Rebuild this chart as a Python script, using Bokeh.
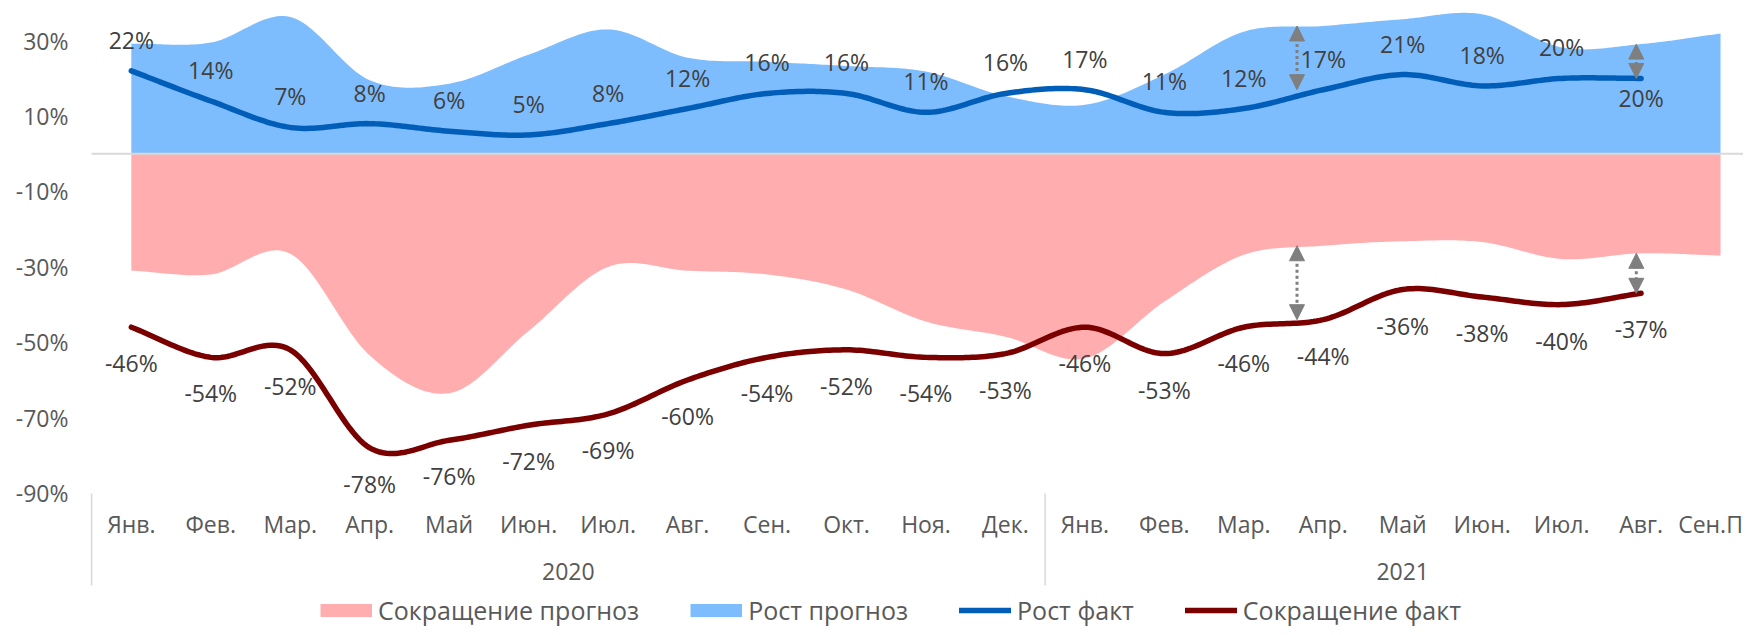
import numpy as np
from bokeh.plotting import figure
from bokeh.models import (Range1d, FixedTicker, PrintfTickFormatter, Legend, LegendItem,
                          Arrow, NormalHead, ColumnDataSource)
from bokeh.embed import file_html
from bokeh.resources import INLINE
from bokeh.core.properties import value

# ---------------- data ----------------
months = ["Янв.", "Фев.", "Мар.", "Апр.", "Май", "Июн.", "Июл.", "Авг.", "Сен.", "Окт.", "Ноя.", "Дек.",
          "Янв.", "Фев.", "Мар.", "Апр.", "Май", "Июн.", "Июл.", "Авг.", "Сен.П"]
years = ["2020", "2021"]
months_per_year = [12, 9]

growth_forecast = [29.2, 29.5, 36.3, 19.5, 18.6, 26.3, 33.0, 25.5, 24.4, 23.3, 21.8, 15.3,
                   13.0, 21.0, 32.4, 33.9, 35.7, 37.0, 28.2, 29.1, 31.9]
decline_forecast = [-31.0, -32.0, -26.5, -53.5, -63.5, -47.0, -30.0, -31.0, -32.0, -36.0, -44.5, -48.5,
                    -54.3, -39.2, -26.8, -24.4, -23.2, -23.4, -27.9, -26.4, -27.0]
growth_actual = [22, 14, 7, 8, 6, 5, 8, 12, 16, 16, 11, 16, 17, 11, 12, 17, 21, 18, 20, 20]
decline_actual = [-46, -54, -52, -78, -76, -72, -69, -60, -54, -52, -54, -53,
                  -46, -53, -46, -44, -36, -38, -40, -37]
y_ticks = [-90, -70, -50, -30, -10, 10, 30]
arrow_months = [15, 19]

series_names = ["Сокращение прогноз", "Рост прогноз", "Рост факт", "Сокращение факт"]

# ---------------- style / layout ----------------
PINK = "#FFADAF"
SKY = "#7EBDFD"
BLUE = "#005EB8"
DARK_RED = "#7A0000"
GRAY_TXT = "#595959"
DARK_TXT = "#404040"
FONT = value("Open Sans")

W, H = 1743, 627
LEFT = 86
PX = 3.77                      # pixels per percentage point
X_START, X_END = -0.564, 20.289
Y_START, Y_END = -125.65, 40.66


def below_zero(px):
    """value located px pixels below the zero line"""
    return -px / PX


def smooth(vals, n=24):
    y = np.asarray(vals, dtype=float)
    k = len(y)
    m = np.zeros(k)
    m[1:-1] = (y[2:] - y[:-2]) / 2.0
    m[0] = y[1] - y[0]
    m[-1] = y[-1] - y[-2]
    t = np.linspace(0.0, 1.0, n, endpoint=False)
    h00 = 2 * t**3 - 3 * t**2 + 1
    h10 = t**3 - 2 * t**2 + t
    h01 = -2 * t**3 + 3 * t**2
    h11 = t**3 - t**2
    xs, ys = [], []
    for i in range(k - 1):
        xs.append(i + t)
        ys.append(h00 * y[i] + h10 * m[i] + h01 * y[i + 1] + h11 * m[i + 1])
    xs.append(np.array([k - 1.0]))
    ys.append(np.array([y[-1]]))
    return np.concatenate(xs), np.concatenate(ys)


p = figure(width=W, height=H, x_range=Range1d(X_START, X_END), y_range=Range1d(Y_START, Y_END),
           output_backend="svg", toolbar_location=None, x_axis_location=None,
           min_border_left=LEFT, min_border_right=0, min_border_top=0, min_border_bottom=0)
p.outline_line_color = None
p.grid.visible = False
p.background_fill_color = "white"
p.border_fill_color = "white"

# y axis
ya = p.yaxis[0]
ya.ticker = FixedTicker(ticks=y_ticks, minor_ticks=[])
ya.formatter = PrintfTickFormatter(format="%d%%")
ya.axis_line_color = None
ya.major_tick_line_color = None
ya.minor_tick_line_color = None
ya.major_tick_out = 0
ya.major_tick_in = 0
ya.major_label_standoff = 18
ya.major_label_text_font = "Open Sans"
ya.major_label_text_font_size = "23px"
ya.major_label_text_color = GRAY_TXT

# forecast areas
xd, yd = smooth(decline_forecast)
xg, yg = smooth(growth_forecast)
p.varea(x=xd, y1=np.zeros_like(yd), y2=yd, fill_color=PINK, fill_alpha=1.0)
p.varea(x=xg, y1=np.zeros_like(yg), y2=yg, fill_color=SKY, fill_alpha=1.0)

# zero line
p.segment(x0=[-0.5], x1=[X_END], y0=[0], y1=[0], line_color="#D9D9D9", line_width=2)

# actual lines
xga, yga = smooth(growth_actual)
xda, yda = smooth(decline_actual)
r_growth = p.line(xga, yga, line_color=BLUE, line_width=5.5, line_cap="round", line_join="round")
r_decline = p.line(xda, yda, line_color=DARK_RED, line_width=5.5, line_cap="round", line_join="round")

# arrows: gap between forecast and actual
arrow_shift = [-0.33, -0.06]
ax = [m + s for m, s in zip(arrow_months, arrow_shift)]
arrow_src = ColumnDataSource(dict(
    x=ax + ax,
    y0=[growth_forecast[m] for m in arrow_months] + [decline_forecast[m] for m in arrow_months],
    y1=[growth_actual[m] for m in arrow_months] + [decline_actual[m] for m in arrow_months],
))
head = dict(size=15, fill_color="#7F7F7F", line_color="#7F7F7F", line_width=1)
p.add_layout(Arrow(source=arrow_src, x_start="x", y_start="y0", x_end="x", y_end="y1",
                   start=NormalHead(**head), end=NormalHead(**head),
                   line_color="#7F7F7F", line_width=3, line_dash="3 3"))

# data labels
n = len(growth_actual)
g_off = [-31] * n
g_off[-1] = 20
g_src = ColumnDataSource(dict(x=list(range(n)), y=growth_actual,
                              t=[f"{v}%" for v in growth_actual], off=g_off))
p.text(x="x", y="y", text="t", y_offset="off", source=g_src, text_font=FONT,
       text_font_size="23px", text_color=DARK_TXT, text_align="center", text_baseline="middle")
d_src = ColumnDataSource(dict(x=list(range(n)), y=decline_actual,
                              t=[f"{v}%" for v in decline_actual], off=[36] * n))
p.text(x="x", y="y", text="t", y_offset="off", source=d_src, text_font=FONT,
       text_font_size="23px", text_color=DARK_TXT, text_align="center", text_baseline="middle")

# category axis (months + years)
m_off = [0] * len(months)
m_off[-1] = -10          # keep the last (clipped in the original) label inside the canvas
m_src = ColumnDataSource(dict(x=list(range(len(months))), y=[below_zero(370.7)] * len(months),
                              t=months, xo=m_off))
p.text(x="x", y="y", text="t", x_offset="xo", source=m_src,
       text_font=FONT, text_font_size="23px", text_color=GRAY_TXT,
       text_align="center", text_baseline="middle")
starts = np.cumsum([0] + months_per_year[:-1])
centers = [s + (k - 1) / 2 for s, k in zip(starts, months_per_year)]
p.text(x=centers, y=[below_zero(417.7)] * len(years), text=years,
       text_font=FONT, text_font_size="23px", text_color=GRAY_TXT,
       text_align="center", text_baseline="middle")
sep_x = [s - 0.5 for s in starts]
p.segment(x0=sep_x, x1=sep_x, y0=[below_zero(339.7)] * len(sep_x), y1=[below_zero(431.7)] * len(sep_x),
          line_color="#D9D9D9", line_width=1.5)

# legend (proxies for the area swatches, drawn outside the visible range)
px_x = [X_START - 3, X_START - 2]
proxy_pink = p.line(x=px_x, y=[0, 0], line_color=PINK, line_width=13, line_cap="butt")
proxy_sky = p.line(x=px_x, y=[0, 0], line_color=SKY, line_width=13, line_cap="butt")
legend = Legend(items=[LegendItem(label=series_names[0], renderers=[proxy_pink]),
                       LegendItem(label=series_names[1], renderers=[proxy_sky]),
                       LegendItem(label=series_names[2], renderers=[r_growth]),
                       LegendItem(label=series_names[3], renderers=[r_decline])],
                orientation="horizontal", location=(234, 0),
                glyph_width=52, glyph_height=26, label_standoff=6, spacing=51,
                padding=0, margin=0, border_line_color=None, background_fill_alpha=0,
                label_text_font="Open Sans", label_text_font_size="25px", label_text_color=GRAY_TXT)
p.add_layout(legend)

open("out.html", "w").write(file_html(p, INLINE))
